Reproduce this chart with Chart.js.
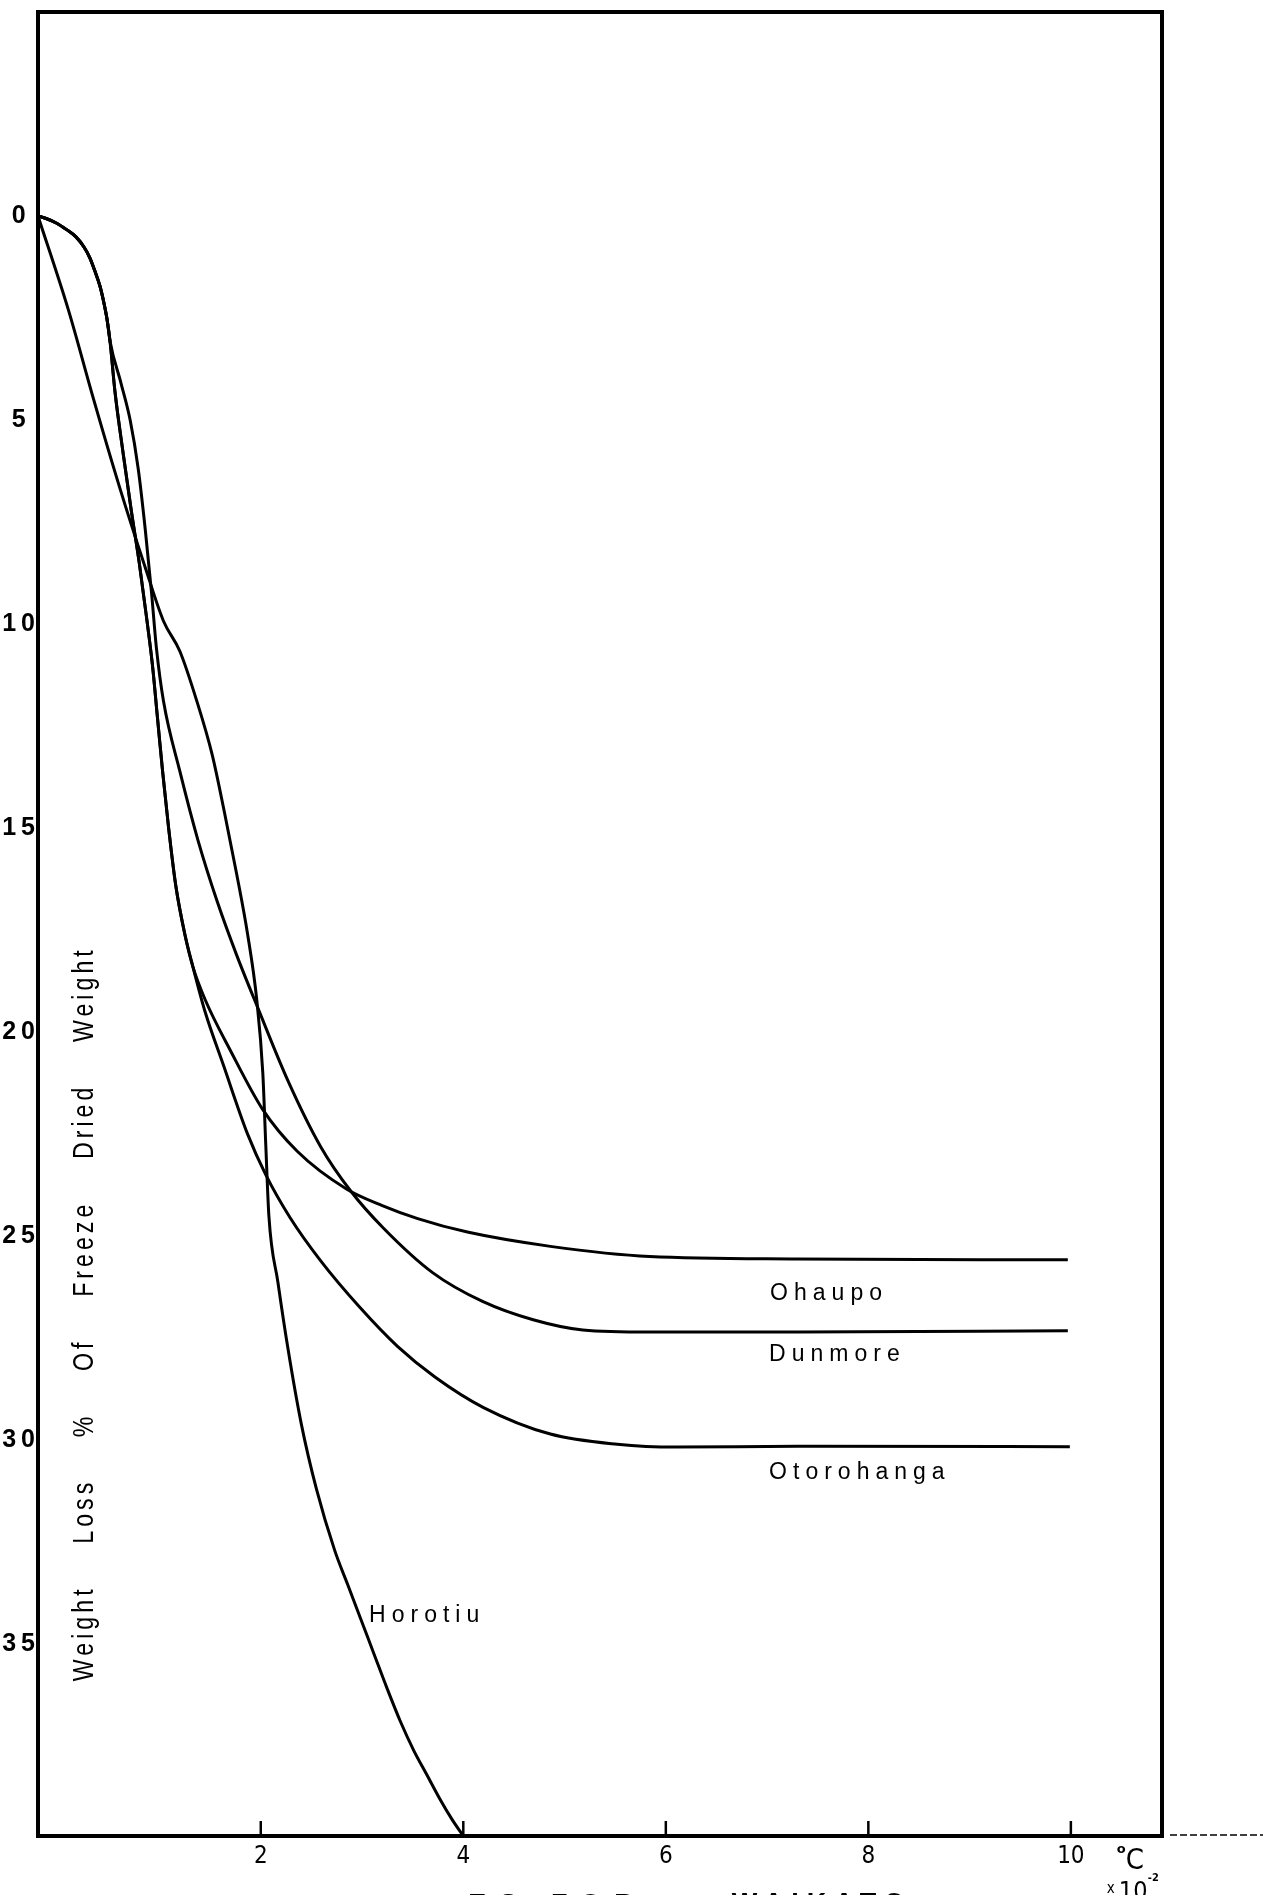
<!DOCTYPE html>
<html>
<head>
<meta charset="utf-8">
<title>Weight loss curves - Waikato</title>
<script src="https://cdn.jsdelivr.net/npm/chart.js@4.4.0/dist/chart.umd.min.js"></script>
<style>
    html, body { margin: 0; padding: 0; background: #fff; }
    #lossWrap { width: 1263px; height: 1895px; }
</style>
</head>
<body>
<div id="lossWrap"><canvas id="lossChart" width="1263" height="1895"></canvas></div>
<script>
// x: temperature (°C x 10^-2), y: weight loss, % of freeze dried weight
const xTicks = [2, 4, 6, 8, 10];
const yTicks = [0, 5, 10, 15, 20, 25, 30, 35];

// Ohaupo, Dunmore and Otorohanga share the same rounded start
const startX = [-0.2, -0.12, -0.02, 0.086, 0.175, 0.254, 0.313, 0.362, 0.412, 0.451, 0.481, 0.511];
const startY = [0, 0.06, 0.17, 0.34, 0.51, 0.76, 1.03, 1.35, 1.72, 2.13, 2.52, 3.06];

// Ohaupo and Otorohanga run together down to about 18 %
const pairX = [0.56, 0.64, 0.72, 0.80, 0.87, 0.93, 0.98, 1.03, 1.09, 1.16, 1.25, 1.33];
const pairY = [4.3, 5.8, 7.2, 8.5, 9.8, 11.0, 12.3, 13.6, 15.0, 16.4, 17.6, 18.4];

const ohaupoX = [1.45, 1.70, 2.02, 2.36, 2.85, 3.20, 3.55, 4.04, 4.86, 5.84, 7.30, 9.97];
const ohaupoY = [19.2, 20.45, 21.9, 22.92, 23.85, 24.25, 24.57, 24.9, 25.25, 25.5, 25.56, 25.58];

const otorohangaX = [1.45, 1.63, 1.87, 2.05, 2.29, 2.59, 2.98, 3.35, 3.72, 4.20, 4.86, 5.52, 6.10, 7.30, 9.99];
const otorohangaY = [19.5, 20.8, 22.5, 23.5, 24.55, 25.6, 26.75, 27.7, 28.45, 29.2, 29.85, 30.1, 30.17, 30.15, 30.16];

const dunmoreX = [0.62, 0.71, 0.79, 0.86, 0.92, 0.97, 1.04, 1.20, 1.38, 1.57, 1.76, 1.97, 2.27, 2.59, 2.89,
    3.21, 3.70, 4.19, 4.69, 5.18, 5.84, 7.32, 9.97];
const dunmoreY = [4.1, 5.0, 6.2, 7.7, 9.2, 10.6, 11.9, 13.6, 15.3, 16.8, 18.1, 19.4, 21.2, 22.8, 23.9,
    24.8, 25.9, 26.6, 27.05, 27.3, 27.35, 27.35, 27.32];

const horotiuX = [-0.2, 0.1, 0.35, 0.6, 0.86, 1.04, 1.20, 1.37, 1.52, 1.64, 1.76, 1.87, 1.96, 2.02, 2.05,
    2.08, 2.17, 2.27, 2.40, 2.55, 2.73, 2.86, 2.99, 3.12, 3.25, 3.38, 3.51, 3.64, 3.77, 3.89, 4.0];
const horotiuY = [0, 2.3, 4.5, 6.6, 8.62, 9.93, 10.66, 11.9, 13.2, 14.6, 16.1, 17.6, 19.2, 21.0, 22.8,
    24.5, 26.14, 27.78, 29.6, 31.2, 32.7, 33.55, 34.4, 35.25, 36.1, 36.9, 37.6, 38.2, 38.8, 39.3, 39.7];

// where each soil name is written (data units, left edge / middle)
const seriesLabels = [
    { text: 'Ohaupo', x: 7.03, y: 26.4 },
    { text: 'Dunmore', x: 7.02, y: 27.9 },
    { text: 'Otorohanga', x: 7.02, y: 30.8 },
    { text: 'Horotiu', x: 3.07, y: 34.3 },
];

const axisTitleWords = ['Weight', 'Loss', '%', 'Of', 'Freeze', 'Dried', 'Weight'];

const narrowFont = "'Liberation Sans Narrow', 'DejaVu Sans Condensed', 'Liberation Sans', sans-serif";

function toPoints(xs, ys) {
    return xs.map((x, i) => ({ x: x, y: ys[i] }));
}

// frame, inner tick marks and all the hand lettering
const paperPlugin = {
    id: 'paperFrame',
    afterDraw(chart) {
        const { ctx, chartArea: a, scales: { x, y } } = chart;
        const W = chart.width;
        ctx.save();
        ctx.strokeStyle = '#000';
        ctx.fillStyle = '#000';

        // box round the plot
        ctx.lineWidth = 4;
        ctx.lineJoin = 'miter';
        ctx.strokeRect(a.left, a.top, a.right - a.left, a.bottom - a.top);

        // tick marks stand up inside the box
        ctx.lineWidth = 2.5;
        xTicks.forEach(v => {
            const px = x.getPixelForValue(v);
            ctx.beginPath();
            ctx.moveTo(px, a.bottom);
            ctx.lineTo(px, a.bottom - 15);
            ctx.stroke();
        });

        // dashed rule carried past the corner
        ctx.lineWidth = 1.5;
        ctx.setLineDash([7, 3]);
        ctx.beginPath();
        ctx.moveTo(a.right + 8, a.bottom - 1);
        ctx.lineTo(W, a.bottom - 1);
        ctx.stroke();
        ctx.setLineDash([]);

        // soil names
        ctx.font = '23px "Liberation Sans", Arial, sans-serif';
        ctx.letterSpacing = '6px';
        ctx.textAlign = 'left';
        ctx.textBaseline = 'middle';
        seriesLabels.forEach(l => {
            ctx.fillText(l.text, x.getPixelForValue(l.x), y.getPixelForValue(l.y));
        });

        // y axis title, written up the inside of the box
        ctx.save();
        const tx = x.getPixelForValue(0.34);
        const ty = y.getPixelForValue(26.9);
        ctx.translate(tx, ty);
        ctx.rotate(-Math.PI / 2);
        ctx.scale(0.8, 1);
        ctx.font = '29px "Liberation Sans", Arial, sans-serif';
        ctx.letterSpacing = '5px';
        ctx.textBaseline = 'alphabetic';
        const gap = 52;
        const widths = axisTitleWords.map(w => ctx.measureText(w).width);
        const total = widths.reduce((s, w) => s + w, 0) + gap * (axisTitleWords.length - 1);
        let pos = -total / 2;
        axisTitleWords.forEach((w, i) => {
            ctx.fillText(w, pos, 0);
            pos += widths[i] + gap;
        });
        ctx.restore();

        // unit note under the right end of the axis
        const ux = x.getPixelForValue(10);
        ctx.letterSpacing = '0px';
        ctx.textBaseline = 'alphabetic';
        ctx.font = 'bold 13px "DejaVu Sans", sans-serif';
        ctx.fillText('o', ux + 46, a.bottom + 17);
        ctx.font = '29px ' + narrowFont;
        ctx.fillText('C', ux + 55, a.bottom + 33);
        ctx.font = '15px ' + narrowFont;
        ctx.fillText('x', ux + 36, a.bottom + 57);
        ctx.font = '25px ' + narrowFont;
        ctx.fillText('10', ux + 48, a.bottom + 63);
        ctx.font = 'bold 11px ' + narrowFont;
        ctx.fillText('-2', ux + 77, a.bottom + 45);

        // caption running off the foot of the sheet
        ctx.font = 'bold 27px "Liberation Sans", Arial, sans-serif';
        ctx.letterSpacing = '13px';
        ctx.fillText('ES FOR', x.getPixelForValue(4.05), chart.height + 18);
        ctx.letterSpacing = '8px';
        ctx.fillText('WAIKATO', x.getPixelForValue(6.65), chart.height + 17);

        ctx.restore();
    },
};

const ctx = document.getElementById('lossChart').getContext('2d');

const lineStyle = {
    showLine: true,
    borderColor: '#000',
    borderWidth: 3,
    pointRadius: 0,
    fill: false,
    cubicInterpolationMode: 'monotone',
};

new Chart(ctx, {
    type: 'scatter',
    data: {
        datasets: [
            { label: 'Ohaupo', data: toPoints(startX.concat(pairX, ohaupoX), startY.concat(pairY, ohaupoY)), ...lineStyle },
            { label: 'Dunmore', data: toPoints(startX.concat(dunmoreX), startY.concat(dunmoreY)), ...lineStyle },
            { label: 'Otorohanga', data: toPoints(startX.concat(pairX, otorohangaX), startY.concat(pairY, otorohangaY)), ...lineStyle },
            { label: 'Horotiu', data: toPoints(horotiuX, horotiuY), ...lineStyle },
        ],
    },
    options: {
        responsive: false,
        animation: false,
        events: [],
        layout: { padding: { top: 12, right: 101, left: 0, bottom: 0 } },
        plugins: {
            legend: { display: false },
            title: { display: false },
            tooltip: { enabled: false },
        },
        scales: {
            x: {
                type: 'linear',
                min: -0.2,
                max: 10.9,
                afterBuildTicks: (scale) => { scale.ticks = xTicks.map(v => ({ value: v })); },
                afterFit: (scale) => {
                    scale.height = 59;
                    scale.paddingLeft = 0;
                    scale.paddingRight = 0;
                },
                grid: { display: false, drawTicks: false },
                border: { display: false },
                ticks: {
                    padding: 6,
                    maxRotation: 0,
                    color: '#000',
                    font: { family: narrowFont, size: 24 },
                },
            },
            y: {
                type: 'linear',
                reverse: true,
                min: -5,
                max: 39.7,
                afterBuildTicks: (scale) => { scale.ticks = yTicks.map(v => ({ value: v })); },
                afterFit: (scale) => {
                    // the labels sit well inside the range, so no extra room top or bottom
                    scale.width = 38;
                    scale.paddingTop = 0;
                    scale.paddingBottom = 0;
                },
                grid: { display: false, drawTicks: false },
                border: { display: false },
                ticks: {
                    padding: 3,
                    crossAlign: 'center',
                    color: '#000',
                    font: { family: "'Liberation Sans', Arial, sans-serif", weight: 'bold', size: 25 },
                    callback: (v) => String(v).split('').join('\u2009'),
                },
            },
        },
    },
    plugins: [paperPlugin],
});
</script>
</body>
</html>
